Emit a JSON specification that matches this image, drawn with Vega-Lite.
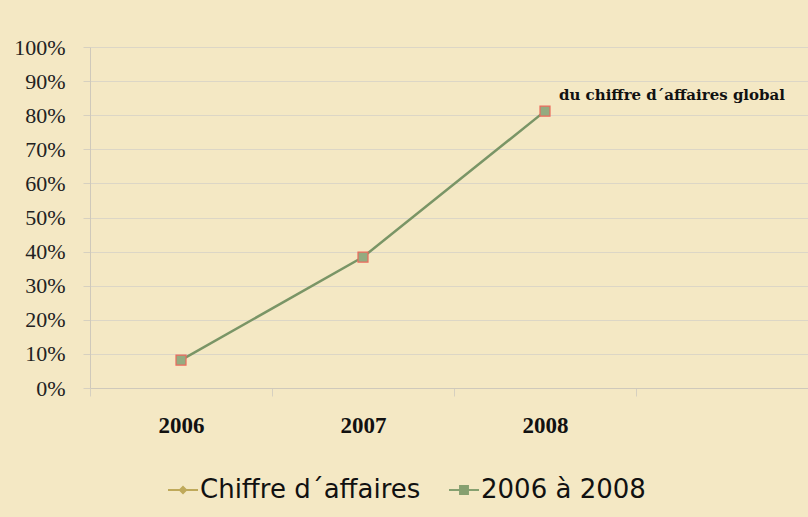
{
  "$schema": "https://vega.github.io/schema/vega-lite/v6.json",
  "width": 728,
  "height": 341,
  "autosize": {"type": "none"},
  "padding": {"left": 90, "top": 47, "right": 0, "bottom": 129},
  "background": "#f4e8c4",
  "config": {"view": {"stroke": null}},
  "data": {
    "values": [
      {"annee": "2006", "serie": "2006 à 2008", "part": 0.082, "label": ""},
      {"annee": "2007", "serie": "2006 à 2008", "part": 0.384, "label": ""},
      {"annee": "2008", "serie": "2006 à 2008", "part": 0.812, "label": "du chiffre d´affaires global"}
    ]
  },
  "encoding": {
    "x": {
      "field": "annee",
      "type": "nominal",
      "bandPosition": 0.5,
      "scale": {"type": "band", "domain": ["2006", "2007", "2008", " "], "paddingInner": 0, "paddingOuter": 0},
      "axis": {
        "title": null,
        "labelAngle": 0,
        "labelFont": "Liberation Serif",
        "labelFontWeight": "bold",
        "labelFontSize": 23,
        "labelColor": "#111111",
        "labelPadding": 18,
        "tickSize": 8,
        "tickBand": "extent",
        "tickColor": "#d6d0c0",
        "domainColor": "#cfc9bb",
        "grid": false
      }
    },
    "y": {
      "field": "part",
      "type": "quantitative",
      "scale": {"domain": [0, 1]},
      "axis": {
        "title": null,
        "values": [0, 0.1, 0.2, 0.3, 0.4, 0.5, 0.6, 0.7, 0.8, 0.9, 1],
        "format": ".0%",
        "labelFont": "Liberation Serif",
        "labelFontSize": 22,
        "labelColor": "#222222",
        "labelPadding": 18,
        "tickSize": 7,
        "tickColor": "#d6d0c0",
        "domainColor": "#cfc9bb",
        "gridColor": "#dcd6c6",
        "grid": true
      }
    }
  },
  "layer": [
    {
      "mark": {"type": "line", "strokeWidth": 2.5},
      "encoding": {
        "color": {
          "field": "serie",
          "type": "nominal",
          "scale": {"domain": ["Chiffre d´affaires", "2006 à 2008"], "range": ["#c0aa5c", "#7a9566"]},
          "legend": {
            "orient": "none",
            "legendX": 78,
            "legendY": 428,
            "direction": "horizontal",
            "title": null,
            "labelFont": "DejaVu Sans",
            "labelFontSize": 26,
            "labelLimit": 500,
            "labelColor": "#111111",
            "symbolSize": 900,
            "columnPadding": 28,
            "labelOffset": 2,
            "encode": {
              "symbols": {
                "update": {
                  "shape": {"signal": "datum.index === 0 ? 'M-1,-0.07H1V0.07H-1Z M-0.3,0L0,-0.3L0.3,0L0,0.3Z' : 'M-1,-0.07H1V0.07H-1Z M-0.33,-0.33H0.33V0.33H-0.33Z'"},
                  "size": {"value": 900},
                  "fill": {"signal": "datum.index === 0 ? '#bfa95a' : '#86a070'"},
                  "strokeWidth": {"value": 0}
                }
              }
            }
          }
        }
      }
    },
    {
      "mark": {"type": "point", "shape": "square", "size": 100, "filled": true, "fill": "#94ab80", "stroke": "#ec6a5c", "strokeWidth": 1.2, "opacity": 1}
    },
    {
      "mark": {"type": "text", "align": "left", "baseline": "middle", "dx": 14, "dy": -16, "font": "DejaVu Serif", "fontWeight": "bold", "fontSize": 15, "color": "#111111"},
      "encoding": {"text": {"field": "label"}}
    }
  ]
}
